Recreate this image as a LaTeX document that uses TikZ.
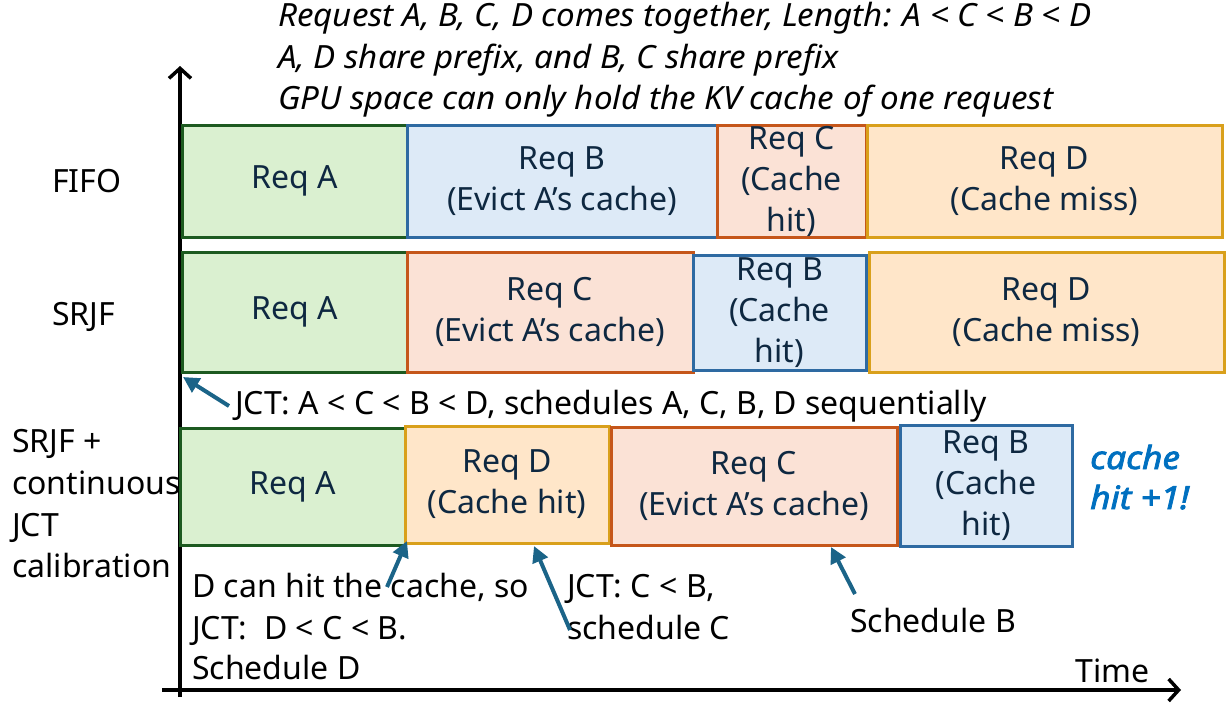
\documentclass[tikz,border=0pt]{standalone}
\usepackage{fontspec}
\setmainfont{Noto Sans}
\newfontfamily\widefont{Noto Sans}[FakeStretch=1.035]
\newfontfamily\gainfont{Noto Sans}[FakeStretch=1.1, FakeBold=2.5]
\usetikzlibrary{arrows.meta}

\definecolor{greenfill}{HTML}{DAF0D0}
\definecolor{greenline}{HTML}{1D5A20}
\definecolor{bluefill}{HTML}{DDEAF7}
\definecolor{blueline}{HTML}{2E6AA2}
\definecolor{redfill}{HTML}{FBE2D6}
\definecolor{redline}{HTML}{C5561A}
\definecolor{goldfill}{HTML}{FFE6C9}
\definecolor{goldline}{HTML}{D9A01B}
\definecolor{boxtext}{HTML}{0E2841}
\definecolor{pointer}{HTML}{1B6488}
\definecolor{gain}{HTML}{0070C0}

\newcommand\mainsize{\fontsize{32}{41}\selectfont}

\begin{document}
\begin{tikzpicture}[x=1pt,y=-1pt,
  req/.style={draw, line width=3pt, inner sep=0pt, align=center,
    text=boxtext, font=\mainsize},
  span/.style n args={4}{minimum width={#2-#1}, minimum height={#4-#3},
    at={({(#1+#2)/2},{(#3+#4)/2})}},
  reqA/.style={req, fill=greenfill, draw=greenline},
  reqB/.style={req, fill=bluefill, draw=blueline},
  reqC/.style={req, fill=redfill, draw=redline},
  reqD/.style={req, fill=goldfill, draw=goldline},
  txt/.style={anchor=base west, inner sep=0pt, font=\mainsize},
  hdr/.style={txt, font=\widefont\mainsize\itshape},
  gaintxt/.style={txt, text=gain, font=\gainfont\mainsize\itshape},
  axis/.style={line width=3.5pt, -{Straight Barb[length=10pt, width=22pt, line width=3.5pt]}},
  ptr/.style={draw=pointer, line width=4pt, -{Triangle[length=16pt, width=16pt, fill=pointer]}}
]
\useasboundingbox (0,0) rectangle (1227,704);

% header lines
\node[hdr] (h1) at (278,27) {Request A, B, C, D comes together, Length: A < C < B < D};
\node[hdr] (h2) at (278,68) {A, D share prefix, and B, C share prefix};
\node[hdr] (h3) at (278,109) {GPU space can only hold the KV cache of one request};

% axes
\coordinate (ybot) at (180,697);
\coordinate (ytop) at (180,66);
\coordinate (xleft) at (162,690);
\coordinate (xright) at (1181,690);
\draw[axis] (ybot) -- (ytop);
\draw[axis] (xleft) -- (xright);
\node[txt] (time) at (1075,682) {Time};

% FIFO row
\node[txt] (fifo) at (52,192) {FIFO};
\node[reqA, span={182}{407}{125}{237}] (fA) {Req A};
\node[reqB, span={407}{717}{125}{237}] (fB) {Req B\\(Evict A’s cache)};
\node[reqC, span={717}{866}{125}{237}] (fC) {Req C\\(Cache\\hit)};
\node[reqD, span={867}{1222}{125}{237}] (fD) {Req D\\(Cache miss)};

% SRJF row
\node[txt] (srjf) at (52,325) {SRJF};
\node[reqA, span={182}{407}{252}{372}] (sA) {Req A};
\node[reqC, span={407}{693}{252}{372}] (sC) {Req C\\(Evict A’s cache)};
\node[reqB, span={693}{866}{255}{370}] (sB) {Req B\\(Cache\\hit)};
\node[reqD, span={869}{1224}{252}{372}] (sD) {Req D\\(Cache miss)};

\node[txt] (jct) at (235,414) {JCT: A < C < B < D, schedules A, C, B, D sequentially};
\coordinate (jcttail) at (229,406);
\coordinate (jcttip) at (183,377);
\draw[ptr] (jcttail) -- (jcttip);

% SRJF with calibration row
\node[txt] (c1) at (12,452) {SRJF +};
\node[txt] (c2) at (12,494) {continuous};
\node[txt] (c3) at (12,536) {JCT};
\node[txt] (c4) at (12,577) {calibration};
\node[reqA, span={180}{405}{428}{545}] (cA) {Req A};
\node[reqD, span={405}{609}{426}{543}] (cD) {Req D\\(Cache hit)};
\node[reqC, span={611}{897}{427}{545}] (cC) {Req C\\(Evict A’s cache)};
\node[reqB, span={900}{1072}{425}{546}] (cB) {Req B\\(Cache\\hit)};

\node[gaintxt] (g1) at (1090,469) {cache};
\node[gaintxt] (g2) at (1090,509) {hit +1!};

% notes below
\node[txt] (n1) at (192,597) {D can hit the cache, so};
\node[txt] (n2) at (192,639) {JCT:\ \ D < C < B.};
\node[txt] (n3) at (192,679) {Schedule D};
\node[txt] (n4) at (567,597) {JCT: C < B,};
\node[txt] (n5) at (567,639) {schedule C};
\node[txt] (n6) at (850,632) {Schedule B};

\coordinate (p1tail) at (387,587);
\coordinate (p1tip) at (407,541);
\coordinate (p2tail) at (570,630);
\coordinate (p2tip) at (534,546);
\coordinate (p3tail) at (855,594);
\coordinate (p3tip) at (831,547);
\draw[ptr] (p1tail) -- (p1tip);
\draw[ptr] (p2tail) -- (p2tip);
\draw[ptr] (p3tail) -- (p3tip);
\end{tikzpicture}
\end{document}
